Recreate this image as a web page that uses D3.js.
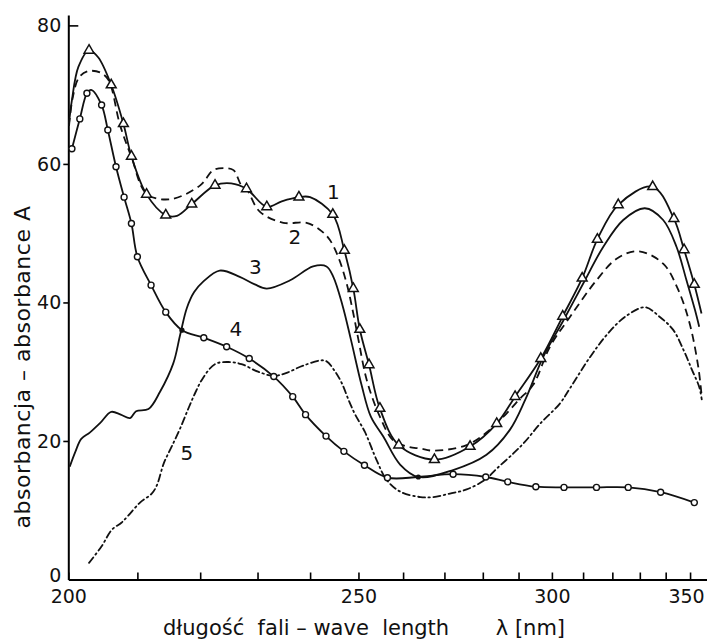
<!DOCTYPE html>
<html lang="pl">
<head>
<meta charset="utf-8">
<title>Absorbancja - widmo</title>
<script src="https://cdn.jsdelivr.net/npm/d3@7"></script>
<style>
  body { margin: 0; background: #fff; }
  text { font-family: "DejaVu Sans", sans-serif; fill: #111; }
</style>
</head>
<body>
<div id="chart"></div>
<script>
// wave length [nm], absorbance A
var curve1 = [[200.1,65.9],[200.5,69.2],[201.4,74.0],[202.9,76.4],[204.2,75.4],[206.1,71.4],[207.9,65.8],[209.1,61.1],
  [211.4,55.6],[214.4,52.6],[216.2,52.5],[218.6,54.2],[222.5,56.9],[225.3,57.2],[228.0,56.4],[231.7,53.8],[234.5,54.6],
  [237.8,55.2],[240.0,55.2],[244.6,52.7],[247.0,47.5],[248.9,42.0],[250.3,36.1],[252.3,31.0],[254.7,24.7],[259.0,19.4],
  [267.5,17.3],[276.6,19.2],[283.8,22.5],[289.0,26.4],[296.6,31.9],[303.4,38.0],[309.7,43.5],[314.8,49.1],[322.1,54.1],
  [334.9,56.7],[343.3,52.1],[347.5,47.6],[351.8,42.6],[354.9,38.4]];
var triangles1 = [[202.9,76.4],[206.1,71.4],[207.9,65.8],[209.1,61.1],[211.4,55.6],[214.4,52.6],[218.6,54.2],[222.5,56.9],
  [228.0,56.4],[231.7,53.8],[237.8,55.2],[244.6,52.7],[247.0,47.5],[248.9,42.0],[250.3,36.1],[252.3,31.0],[254.7,24.7],
  [259.0,19.4],[267.5,17.3],[276.6,19.2],[283.8,22.5],[289.0,26.4],[296.6,31.9],[303.4,38.0],[309.7,43.5],[314.8,49.1],
  [322.1,54.1],[334.9,56.7],[343.3,52.1],[347.5,47.6],[351.8,42.6]];

var curve2 = [[200.1,65.5],[200.6,69.5],[201.5,72.5],[202.8,73.4],[204.5,73.2],[205.7,72.1],[207.4,65.6],[209.1,61.0],
  [211.4,55.7],[215.1,54.9],[220.0,56.9],[222.2,59.1],[224.0,59.4],[225.7,59.1],[227.1,56.9],[228.0,56.4],[230.4,53.1],
  [234.8,51.5],[239.3,51.5],[242.3,50.3],[244.0,49.0],[245.7,46.6],[247.5,42.7],[248.9,38.4],[250.0,34.6],[251.8,28.8],
  [254.7,23.5],[257.7,20.1],[261.0,19.2],[264.1,18.9],[267.2,18.6],[275.7,19.4],[281.9,21.6],[286.6,24.0],[290.4,26.1],
  [294.3,28.1],[299.4,33.6],[305.7,37.9],[314.5,43.2],[321.5,46.3],[329.4,47.4],[339.0,45.6],[345.1,41.8],[349.8,37.0],
  [353.5,30.7],[355.0,26.4]];

var curve3 = [[200.2,16.3],[201.0,18.5],[201.8,20.3],[203.0,21.2],[204.5,22.6],[206.1,24.2],[207.5,23.8],[208.9,23.3],
  [209.8,24.3],[211.7,24.6],[213.5,27.1],[215.6,31.2],[216.7,35.3],[217.8,39.2],[219.0,41.5],[220.5,43.0],[223.3,44.6],
  [226.8,43.7],[229.5,42.6],[231.7,42.0],[236.1,43.2],[240.6,45.2],[243.3,45.2],[244.7,43.7],[246.6,39.6],[248.4,34.6],
  [250.7,28.0],[252.7,23.5],[255.5,20.6],[259.3,16.6],[263.6,14.8],[272.2,15.8],[281.0,18.0],[287.5,21.6],[292.0,26.0],
  [297.3,32.1],[303.6,37.4],[310.0,42.7],[316.8,48.0],[323.9,51.9],[331.9,53.6],[339.0,51.9],[344.4,48.0],[348.5,43.2],
  [352.1,38.9],[353.9,36.5]];

var curve4 = [[200.5,62.2],[201.6,66.5],[202.6,70.2],[203.2,70.7],[204.7,68.5],[205.6,64.9],[206.8,59.6],[208.0,55.2],
  [209.1,51.4],[210.0,46.6],[212.1,42.5],[214.4,38.6],[217.0,36.0],[220.6,34.9],[224.5,33.6],[228.5,31.9],[233.0,29.3],
  [236.6,26.4],[239.1,23.8],[243.2,20.7],[246.9,18.5],[251.3,16.5],[256.4,14.7],[263.6,14.8],[272.2,15.2],[280.8,14.8],
  [286.9,14.1],[295.1,13.4],[303.8,13.3],[314.5,13.3],[325.7,13.3],[338.0,12.6],[351.8,11.1]];
var circles4 = [[200.5,62.2],[201.6,66.5],[202.6,70.2],[204.7,68.5],[205.6,64.9],[206.8,59.6],[208.0,55.2],[209.1,51.4],
  [210.0,46.6],[212.1,42.5],[214.4,38.6],[220.6,34.9],[224.5,33.6],[228.5,31.9],[233.0,29.3],[236.6,26.4],[239.1,23.8],
  [243.2,20.7],[246.9,18.5],[251.3,16.5],[256.4,14.7],[272.2,15.2],[280.8,14.8],[286.9,14.1],[295.1,13.4],[303.8,13.3],
  [314.5,13.3],[325.7,13.3],[338.0,12.6],[351.8,11.1]];
var dots4 = [[217.0,36.0],[263.6,14.8]];

var curve5 = [[202.9,2.4],[204.7,4.8],[206.2,7.2],[207.6,8.2],[208.6,9.2],[210.4,11.1],[212.2,12.4],[213.0,13.6],
  [214.1,16.8],[215.3,19.1],[216.7,21.8],[218.1,24.8],[219.2,27.0],[220.4,29.0],[222.5,31.1],[224.8,31.4],[227.1,31.1],
  [230.1,30.0],[233.0,29.4],[235.3,29.8],[238.7,30.9],[243.0,31.6],[244.9,30.2],[246.5,28.3],[247.9,25.9],[249.3,23.8],
  [251.4,21.3],[254.0,17.2],[256.2,14.4],[259.3,12.7],[264.1,11.9],[267.2,11.9],[271.4,12.4],[275.7,13.0],[280.6,14.4],
  [283.8,16.0],[288.5,18.2],[291.9,19.9],[296.4,22.5],[302.5,25.4],[305.7,27.6],[312.3,32.1],[318.0,35.3],[324.5,37.9],
  [331.9,39.3],[337.7,37.9],[343.1,36.0],[347.3,33.1],[350.9,30.2],[353.9,27.8],[355.0,26.0]];

var curveNames = ["1", "2", "3", "4", "5"];
var namePos = [[244.7,56.0],[237.0,49.5],[229.6,45.1],[226.1,36.2],[217.8,18.3]];

var xMajor = [200, 250, 300, 350];
var xMinor = [210, 220, 230, 240, 260, 270, 280, 290, 310, 320, 330, 340];
var yTicks = [0, 20, 40, 60, 80];

var width = 707, height = 639;

var svg = d3.select("#chart").append("svg")
  .attr("width", width).attr("height", height);

// the wave length axis is linear in 1/lambda
var xs = d3.scaleLinear().domain([1 / 200, 1 / 357.3]).range([68.3, 707]);
var ys = d3.scaleLinear().domain([0, 81.5]).range([579.5, 15]);
function x(l) { return xs(1 / l); }

var line = d3.line()
  .x(function(d) { return x(d[0]); })
  .y(function(d) { return ys(d[1]); })
  .curve(d3.curveCatmullRom.alpha(0.5));

// axes
var gx = svg.append("g").attr("transform", "translate(0," + ys(0) + ")")
  .call(d3.axisBottom(xs)
    .tickValues(xMajor.map(function(v) { return 1 / v; }))
    .tickFormat(function(d) { return Math.round(1 / d); })
    .tickSizeInner(-7).tickSizeOuter(0).tickPadding(10));
gx.select(".domain").attr("stroke-width", 2);
gx.selectAll(".tick text").filter(function(d) { return Math.round(1 / d) === 350; }).attr("dx", -4);

var gxm = svg.append("g").attr("transform", "translate(0," + ys(0) + ")")
  .call(d3.axisBottom(xs)
    .tickValues(xMinor.map(function(v) { return 1 / v; }))
    .tickFormat("").tickSizeInner(-7).tickSizeOuter(0));
gxm.select(".domain").remove();

var gy = svg.append("g").attr("transform", "translate(" + xs(1 / 200) + ",0)")
  .call(d3.axisLeft(ys).tickValues(yTicks).tickSizeInner(5).tickSizeOuter(0).tickPadding(2));
gy.select(".domain").attr("stroke-width", 2);
gy.selectAll(".tick").filter(function(d) { return d === 80; }).select("line").attr("x2", 10);
var zeroTick = gy.selectAll(".tick").filter(function(d) { return d === 0; });
zeroTick.select("line").remove();
zeroTick.select("text").attr("dy", "0.1em");

svg.selectAll(".tick line").attr("stroke-width", 1.6);
svg.selectAll(".tick text").attr("font-size", 19).attr("fill", "#111")
  .style("font-family", "DejaVu Sans, sans-serif");

// curves
var curves = svg.append("g").attr("fill", "none").attr("stroke", "#111").attr("stroke-width", 1.8);
curves.append("path").datum(curve1).attr("d", line);
curves.append("path").datum(curve2).attr("d", line).attr("stroke-dasharray", "8,5");
curves.append("path").datum(curve3).attr("d", line);
curves.append("path").datum(curve4).attr("d", line);
curves.append("path").datum(curve5).attr("d", line)
  .attr("stroke-dasharray", "7,3.5,1.5,3.5").attr("stroke-linecap", "round");

// markers
svg.append("g").selectAll("path").data(triangles1).join("path")
  .attr("transform", function(d) { return "translate(" + x(d[0]) + "," + ys(d[1]) + ")"; })
  .attr("d", d3.symbol(d3.symbolTriangle, 42))
  .attr("fill", "#fff").attr("stroke", "#111").attr("stroke-width", 1.5);

svg.append("g").selectAll("circle").data(circles4).join("circle")
  .attr("cx", function(d) { return x(d[0]); })
  .attr("cy", function(d) { return ys(d[1]); })
  .attr("r", 3)
  .attr("fill", "#fff").attr("stroke", "#111").attr("stroke-width", 1.4);

svg.append("g").selectAll("circle").data(dots4).join("circle")
  .attr("cx", function(d) { return x(d[0]); })
  .attr("cy", function(d) { return ys(d[1]); })
  .attr("r", 2.6).attr("fill", "#111");

// curve numbers
svg.append("g").selectAll("text").data(curveNames).join("text")
  .attr("x", function(d, i) { return x(namePos[i][0]); })
  .attr("y", function(d, i) { return ys(namePos[i][1]); })
  .attr("text-anchor", "middle").attr("dy", "0.36em")
  .attr("font-size", 20)
  .text(function(d) { return d; });

// axis titles
svg.append("text")
  .attr("x", 163).attr("y", 635)
  .attr("font-size", 21)
  .style("white-space", "pre")
  .text("długość  fali – wave  length       λ [nm]");

svg.append("text")
  .attr("transform", "translate(30,367) rotate(-90)")
  .attr("text-anchor", "middle").attr("font-size", 22)
  .attr("letter-spacing", 0.5)
  .text("absorbancja – absorbance A");
</script>
</body>
</html>
